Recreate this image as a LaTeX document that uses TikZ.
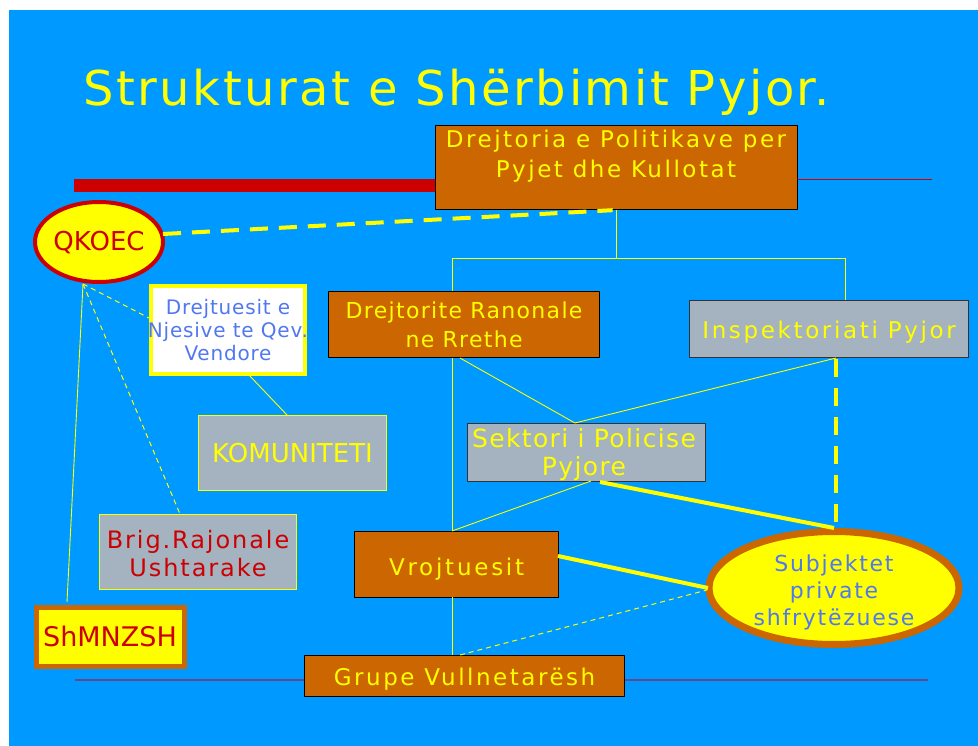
\documentclass[tikz,border=0pt]{standalone}
\usepackage{fontspec}
\setmainfont{DejaVu Sans}
\usetikzlibrary{shapes.geometric}
\definecolor{bgblue}{HTML}{0099FF}
\definecolor{boxorange}{HTML}{CC6600}
\definecolor{boxgray}{HTML}{A5B2BF}
\definecolor{ttlyellow}{HTML}{FFFF00}
\definecolor{darkred}{HTML}{CC0000}
\definecolor{txtblue}{RGB}{80,120,240}
\definecolor{linepurple}{RGB}{95,75,140}
\newcommand{\fs}[3]{\fontsize{#1}{#2}\selectfont\addfontfeature{LetterSpace=#3}}
\tikzset{
  orangebox/.style={draw=black, line width=1.2pt, fill=boxorange, inner sep=0pt, anchor=north west},
  graybox/.style={draw=black!80, line width=1.2pt, fill=boxgray, inner sep=0pt, anchor=north west},
  ybordergray/.style={draw=ttlyellow, line width=1pt, fill=boxgray, inner sep=0pt, anchor=north west},
  lbl/.style={text=ttlyellow, align=center, inner sep=0pt},
  thin/.style={draw=ttlyellow, line width=0.9pt},
  thindash/.style={draw=ttlyellow, line width=1pt, dash pattern=on 5pt off 4pt},
  thickline/.style={draw=ttlyellow, line width=4pt},
  thickdash/.style={draw=ttlyellow, line width=4pt, dash pattern=on 18pt off 11pt},
}
\begin{document}
\begin{tikzpicture}[x=1pt,y=-1pt]
\useasboundingbox (0,0) rectangle (978,746);
\fill[white] (0,0) rectangle (978,746);
\fill[bgblue] (9,10) rectangle (978,746);

% title
\node[anchor=base west, text=ttlyellow, inner sep=0pt, font=\fs{48}{54}{5.3}] (title) at (83,106) {Strukturat e Shërbimit Pyjor.};

% decorative lines
\fill[darkred] (74,179) rectangle (436,192);
\draw[darkred, line width=1pt] (797,180) -- (932,180);
\draw[linepurple, line width=2pt] (75,680) -- (928,680);

% boxes
\node[orangebox, minimum width=362pt, minimum height=84pt] (top) at (435,125) {};
\node[lbl, anchor=north, font=\fs{23}{29.5}{11}] (toptxt) at (616,130) {Drejtoria e Politikave per\\Pyjet dhe Kullotat};

\node[orangebox, minimum width=271pt, minimum height=66pt] (drr) at (328,291) {};
\node[lbl, font=\fs{22}{29}{6}] (drrtxt) at (drr.center) {Drejtorite Ranonale\\ne Rrethe};

\node[graybox, minimum width=279pt, minimum height=57pt] (insp) at (689,300) {};
\node[lbl, font=\fs{23}{29}{11.5}] (insptxt) at ([yshift=-3pt]insp.center) {Inspektoriati Pyjor};

\node[graybox, minimum width=238pt, minimum height=58pt] (sekt) at (467,423) {};
\node[lbl, anchor=north, font=\fs{25}{28}{5.5}] (sekttxt) at (584,428) {Sektori i Policise\\Pyjore};

\node[orangebox, minimum width=204pt, minimum height=66pt] (vroj) at (354,531) {};
\node[lbl, font=\fs{23}{29}{12}] (vrojtxt) at ([yshift=-5pt]vroj.center) {Vrojtuesit};

\node[orangebox, minimum width=320pt, minimum height=41pt] (grupe) at (304,655) {};
\node[lbl, font=\fs{23}{29}{11}] (grupetxt) at ([yshift=-3pt]grupe.center) {Grupe Vullnetarësh};

\node[ellipse, draw=boxorange, line width=7pt, fill=ttlyellow, minimum width=250pt, minimum height=113pt, inner sep=0pt] (subj) at (834,588) {};
\node[lbl, text=txtblue, font=\fs{22}{27}{8}] (subjtxt) at (834,592) {Subjektet\\private\\shfrytëzuese};

\node[ellipse, draw=darkred, line width=4pt, fill=ttlyellow, minimum width=128pt, minimum height=80pt, inner sep=0pt] (qkoec) at (99,242) {};
\node[lbl, text=darkred, font=\fs{26}{30}{0}] (qkoectxt) at (99,243) {QKOEC};

\node[draw=ttlyellow, line width=4pt, fill=white, minimum width=154pt, minimum height=88pt, anchor=north west, inner sep=0pt] (drejt) at (149,284) {};
\node[lbl, text=txtblue, font=\fs{20}{23}{4}] (drejttxt) at (drejt.center) {Drejtuesit e\\Njesive te Qev.\\Vendore};

\node[ybordergray, minimum width=188pt, minimum height=75pt] (komu) at (198,415) {};
\node[lbl, font=\fs{26}{30}{0}] (komutxt) at (komu.center) {KOMUNITETI};

\node[ybordergray, minimum width=197pt, minimum height=75pt] (brig) at (99,514) {};
\node[lbl, text=darkred, font=\fs{24}{28}{8}] (brigtxt) at ([yshift=-2pt]brig.center) {Brig.Rajonale\\Ushtarake};

\node[draw=boxorange, line width=5pt, fill=ttlyellow, minimum width=148pt, minimum height=59pt, anchor=north west, inner sep=0pt] (shm) at (33.5,604.5) {};
\node[lbl, text=darkred, font=\fs{27}{30}{0}] (shmtxt) at (shm.center) {ShMNZSH};

% tree junctions
\coordinate (j1) at (616,258);
\coordinate (jl) at (452,258);
\coordinate (jr) at (845,258);
\coordinate (qb) at (83,284);

% connectors
\draw[thin] (top.south -| j1) -- (j1);
\draw[thin] (jl) -- (jr);
\draw[thin] (jl) -- (jl |- drr.north);
\draw[thin] (jr) -- (jr |- insp.north);

\draw[thickdash] (163,234) -- ([xshift=-4pt]top.south);
\draw[thindash] (qb) -- (drejt.west |- 0,318);
\draw[thindash] (qb) -- (180,514);
\draw[thin] (qb) -- (67,602);
\draw[thin] (248,374) -- (287,415);

\draw[thin] (460,358) -- (575,423);
\draw[thin] (836,358) -- (575,423);
\draw[thin] (452,358) -- (452,531);
\draw[thin] (591,481) -- (452,531);
\draw[thin] (452,597) -- (452,655);
\draw[thickline] (600,482) -- (834,528);
\draw[thickdash] (836,359) -- (836,524);
\draw[thickline] (558,556) -- (708,588);
\draw[thindash] (460,655) -- (707,590);
\end{tikzpicture}
\end{document}
